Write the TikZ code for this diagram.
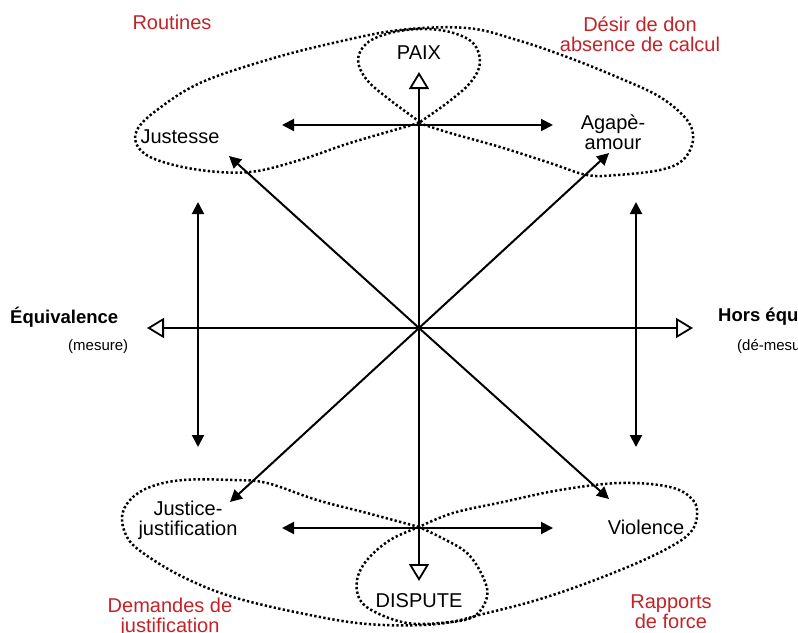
\documentclass[tikz,border=0pt]{standalone}
\usepackage{fontspec}
\setmainfont{Liberation Sans}
\usetikzlibrary{arrows.meta}
\definecolor{lblred}{RGB}{195,35,40}
\begin{document}
\begin{tikzpicture}[x=1pt,y=-1pt,
  axis/.style={line width=2pt,{Triangle[open,length=17pt,width=20pt,line width=1.8pt,fill=white]}-{Triangle[open,length=17pt,width=20pt,line width=1.8pt,fill=white]}},
  darrow/.style={line width=2pt,-{Triangle[length=12pt,width=12pt]}},
  ddarrow/.style={line width=2pt,{Triangle[length=12pt,width=12pt]}-{Triangle[length=12pt,width=12pt]}},
  loop/.style={line width=2.5pt,dash pattern=on 2.3pt off 2.3pt},
  lbl/.style={font=\fontsize{20}{20}\selectfont,align=center,inner sep=0pt},
  rlbl/.style={lbl,text=lblred},
  side/.style={font=\bfseries\fontsize{18.5}{18}\selectfont,inner sep=0pt},
  sub/.style={font=\fontsize{15}{16}\selectfont,inner sep=0pt}]
\useasboundingbox (0,0) rectangle (798,632);
\clip (0,0) rectangle (798,632);
\fill[white] (0,0) rectangle (798,632);
% coordinates
\coordinate (O) at (419,328);
\coordinate (axT) at (419,72);
\coordinate (axB) at (419,581);
\coordinate (axL) at (147,328);
\coordinate (axR) at (693,328);
\coordinate (tJ) at (229,156);
\coordinate (tA) at (609,153);
\coordinate (tJu) at (230,502);
\coordinate (tV) at (609,499);
\coordinate (hTL) at (282,125);
\coordinate (hTR) at (553,125);
\coordinate (hBL) at (282,528);
\coordinate (hBR) at (553,528);
\coordinate (vLT) at (198,202);
\coordinate (vLB) at (198,447);
\coordinate (vRT) at (636,202);
\coordinate (vRB) at (636,447);
% loops
\draw[loop] plot[smooth,tension=0.6] coordinates {(419,123) (350,143) (300,160) (250,172) (200,170) (157,160) (138,147) (137,130) (157,110) (200,83) (267,60) (333,43) (400,30) (467,28) (517,40) (567,57) (617,77) (660,97) (687,120) (693,140) (683,160) (660,170) (617,175) (587,175) (550,163) (500,147) (450,133) (419,123)};
\draw[loop] plot[smooth,tension=0.6] coordinates {(420,122) (390,100) (367,80) (358,60) (367,43) (390,33) (420,29) (450,32) (473,43) (480,63) (470,83) (447,103) (420,122)};
\draw[loop] plot[smooth,tension=0.6] coordinates {(419,527) (367,513) (317,500) (267,483) (233,480) (183,480) (150,487) (130,500) (122,517) (127,537) (143,553) (183,577) (233,597) (300,613) (367,624) (437,624) (487,613) (537,600) (587,583) (637,563) (670,547) (690,533) (697,517) (693,500) (670,487) (620,483) (560,490) (503,502) (453,513) (419,527)};
\draw[loop] plot[smooth,tension=0.6] coordinates {(419,527) (390,540) (367,560) (357,580) (360,600) (377,613) (407,623) (440,623) (473,617) (487,597) (483,577) (467,553) (440,537) (419,527)};
% arrows
\draw[axis] (axT) -- (axB);
\draw[axis] (axL) -- (axR);
\draw[darrow] (O) -- (tJ);
\draw[darrow] (O) -- (tA);
\draw[darrow] (O) -- (tJu);
\draw[darrow] (O) -- (tV);
\draw[ddarrow] (hTL) -- (hTR);
\draw[ddarrow] (hBL) -- (hBR);
\draw[ddarrow] (vLT) -- (vLB);
\draw[ddarrow] (vRT) -- (vRB);
% labels
\node[lbl] (paix) at (419,53) {PAIX};
\node[lbl] (just) at (180,137) {Justesse};
\node[lbl] (agape) at (613,132) {Agapè-\\amour};
\node[lbl] (justice) at (188,520) {Justice-\\justification};
\node[lbl] (viol) at (646,527) {Violence};
\node[lbl] (disp) at (419,601) {DISPUTE};
\node[rlbl] (rout) at (172,22) {Routines};
\node[rlbl] (desir) at (640,34) {Désir de don\\absence de calcul};
\node[rlbl] (dem) at (170,617) {Demandes de\\justification};
\node[rlbl] (rap) at (671,612) {Rapports\\de force};
\node[side,anchor=west] (eq) at (10,317) {Équivalence};
\node[sub,anchor=west] (mes) at (68,347) {(mesure)};
\node[side,anchor=west] (hors) at (718,317) {Hors équivalence};
\node[sub,anchor=west] (demes) at (737,347) {(dé-mesure)};
\end{tikzpicture}
\end{document}
